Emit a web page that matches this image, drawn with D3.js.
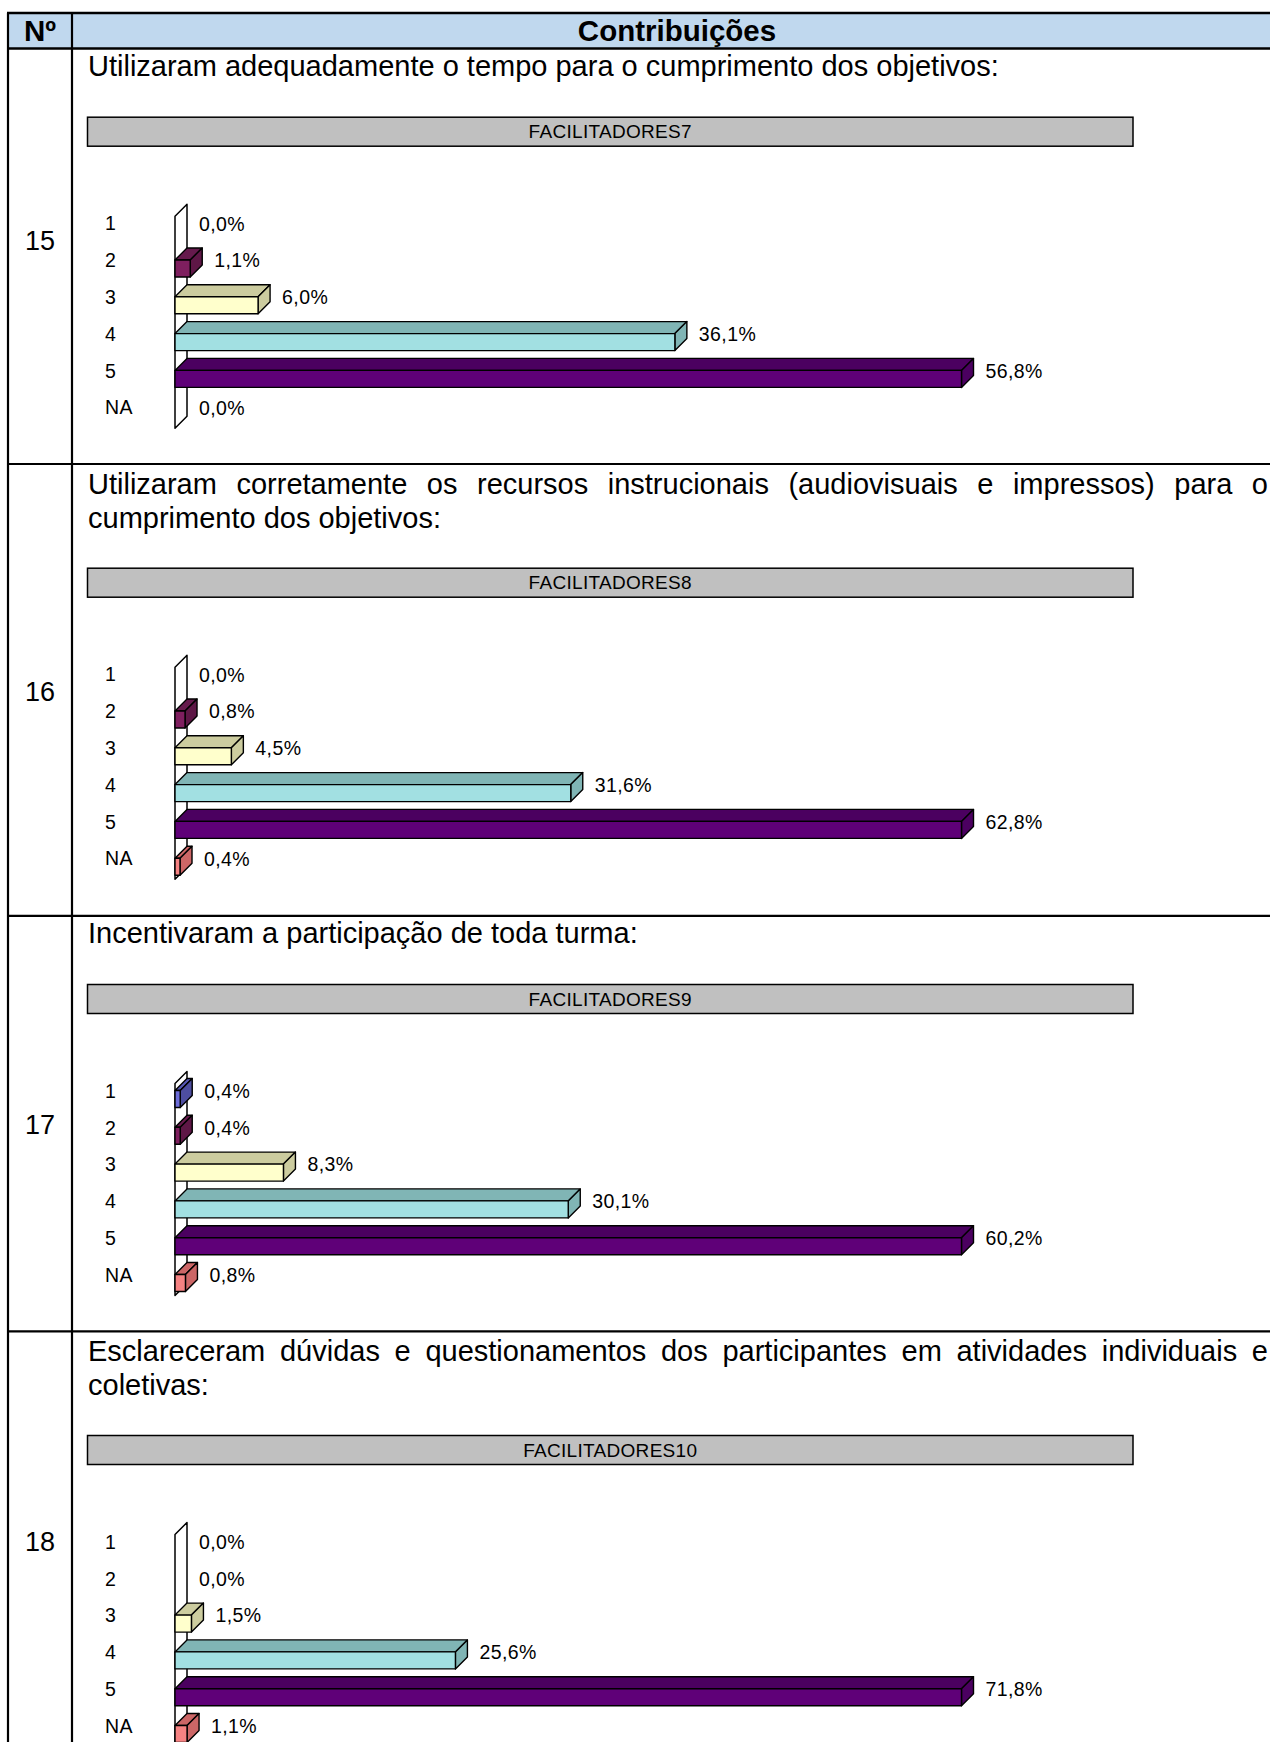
<!DOCTYPE html>
<html><head><meta charset="utf-8">
<script src="https://cdn.jsdelivr.net/npm/d3@7"></script>
<style>body{margin:0;background:#fff} svg{display:block}</style>
</head><body>
<svg id="c" width="1270" height="1742"></svg>
<script>
// ---------------- data ----------------
const headerLabels = ["Nº", "Contribuições"];
const questionNumbers = ["15", "16", "17", "18"];
const chartTitles = ["FACILITADORES7", "FACILITADORES8", "FACILITADORES9", "FACILITADORES10"];
const questionLines = [
  ["Utilizaram adequadamente o tempo para o cumprimento dos objetivos:"],
  ["Utilizaram corretamente os recursos instrucionais (audiovisuais e impressos) para o", "cumprimento dos objetivos:"],
  ["Incentivaram a participação de toda turma:"],
  ["Esclareceram dúvidas e questionamentos dos participantes em atividades individuais e", "coletivas:"]
];
const categories = ["1", "2", "3", "4", "5", "NA"];
const values15 = [0.0, 1.1, 6.0, 36.1, 56.8, 0.0];
const values16 = [0.0, 0.8, 4.5, 31.6, 62.8, 0.4];
const values17 = [0.4, 0.4, 8.3, 30.1, 60.2, 0.8];
const values18 = [0.0, 0.0, 1.5, 25.6, 71.8, 1.1];
const seriesValues = [values15, values16, values17, values18];

// ---------------- styles ----------------
const frontColors = ["#6c6cd8", "#7f1f5f", "#ffffcc", "#a2e0e2", "#5f0078", "#f58282"];
const topColors   = ["#5858b4", "#661a4d", "#cccc9f", "#80b5b5", "#4b0060", "#cc6666"];
const sideColors  = ["#4e4ea0", "#5e1746", "#cccc9f", "#80b5b5", "#4b0060", "#cc6666"];
const numberOffsets = [191.5, 227, 208.6, 210];

const FONT = "'Liberation Sans', Arial, Helvetica, sans-serif";
const svg = d3.select("#c").style("font-family", FONT);

const tableLeft = 8, colDiv = 72, tableRight = 1282;
const headerTop = 13, headerBottom = 48.5;
const textLeft = 88, textRight = 1268;
const depth = 12, step = 36.8, barH = 17;
const xStart = 175, xEnd = 961.5;

// header
svg.append("rect").attr("x", tableLeft).attr("y", headerTop)
  .attr("width", tableRight - tableLeft).attr("height", headerBottom - headerTop)
  .attr("fill", "#c0d8ee");
svg.append("text").attr("x", (tableLeft + colDiv) / 2).attr("y", 41)
  .attr("text-anchor", "middle").attr("font-weight", "bold").attr("font-size", 29.5)
  .text(headerLabels[0]);
svg.append("text").attr("x", (colDiv + tableRight) / 2).attr("y", 41)
  .attr("text-anchor", "middle").attr("font-weight", "bold").attr("font-size", 29.5)
  .text(headerLabels[1]);

function justify(g, line, x0, x1, y) {
  const words = line.split(" ");
  const nodes = words.map(w => g.append("text").attr("y", y).attr("font-size", 29).text(w));
  const widths = nodes.map(n => n.node().getComputedTextLength());
  const gap = (x1 - x0 - d3.sum(widths)) / (words.length - 1);
  let x = x0;
  nodes.forEach((n, i) => { n.attr("x", x); x += widths[i] + gap; });
}

let rowTop = headerBottom;
const rowLines = [headerTop, headerBottom];

seriesValues.forEach((vals, qi) => {
  const lines = questionLines[qi];
  const extra = (lines.length - 1);
  const rowH = 415.5 + extra * 36.3;
  const g = svg.append("g");

  // question text
  lines.forEach((ln, li) => {
    const y = rowTop + 27 + extra * 3 + li * 34;
    if (li < lines.length - 1) justify(g, ln, textLeft, textRight, y);
    else g.append("text").attr("x", textLeft).attr("y", y).attr("font-size", 29).text(ln);
  });

  // number
  g.append("text").attr("x", (tableLeft + colDiv) / 2).attr("y", rowTop + numberOffsets[qi] + 9.5)
    .attr("text-anchor", "middle").attr("font-size", 27).text(questionNumbers[qi]);

  // chart
  const top = rowTop + 174.7 + extra * 35.5;
  const y = d3.scaleBand().domain(categories).range([top, top + categories.length * step]);
  const x = d3.scaleLinear().domain([0, d3.max(vals)]).range([xStart, xEnd]);

  // title box
  g.append("rect").attr("x", 87.5).attr("y", top - 106).attr("width", 1133 - 87.5).attr("height", 29)
    .attr("fill", "#c0c0c0").attr("stroke", "#000").attr("stroke-width", 1.5);
  g.append("text").attr("x", (87.5 + 1133) / 2).attr("y", top - 106 + 14.5).attr("dy", "0.35em")
    .attr("text-anchor", "middle").attr("font-size", 19).attr("letter-spacing", 0.3)
    .text(chartTitles[qi]);

  // wall
  const wTop = top - 7, wBot = top + 5 * step + barH + 4;
  const x0 = x(0);
  g.append("polygon")
    .attr("points", [[x0, wTop], [x0 + depth, wTop - depth], [x0 + depth, wBot - depth], [x0, wBot]].map(p => p.join(",")).join(" "))
    .attr("fill", "#fff").attr("stroke", "#000").attr("stroke-width", 1.5).attr("stroke-linejoin", "round");

  // bars
  categories.forEach((c, i) => {
    const v = vals[i];
    const yt = y(c);
    if (v > 0) {
      const x1 = x(v);
      const bg = g.append("g").attr("stroke", "#000").attr("stroke-width", 1.4).attr("stroke-linejoin", "round");
      bg.append("polygon")
        .attr("points", [[x0, yt], [x0 + depth, yt - depth], [x1 + depth, yt - depth], [x1, yt]].map(p => p.join(",")).join(" "))
        .attr("fill", topColors[i]);
      bg.append("polygon")
        .attr("points", [[x1, yt], [x1 + depth, yt - depth], [x1 + depth, yt + barH - depth], [x1, yt + barH]].map(p => p.join(",")).join(" "))
        .attr("fill", sideColors[i]);
      bg.append("rect").attr("x", x0).attr("y", yt).attr("width", x1 - x0).attr("height", barH)
        .attr("fill", frontColors[i]);
    }
    g.append("text").attr("x", x(v) + depth + 12).attr("y", yt + 0.5).attr("dy", "0.35em")
      .attr("font-size", 19.5).attr("letter-spacing", 0.4)
      .text(d3.format(".1f")(v).replace(".", ",") + "%");
  });

  // category axis labels
  const ax = g.append("g").attr("transform", `translate(105,${1 - y.bandwidth() / 2})`)
    .call(d3.axisLeft(y).tickSize(0).tickPadding(0));
  ax.select(".domain").remove();
  ax.selectAll("text").attr("x", 0).attr("text-anchor", "start")
    .attr("font-size", 19.5).attr("letter-spacing", 0.4).attr("font-family", FONT).attr("fill", "#000");

  rowTop += rowH;
  rowLines.push(rowTop);
});

// table lines
const lineG = svg.append("g").attr("stroke", "#000").attr("stroke-width", 2.2);
rowLines.forEach((yy, i) => {
  if (yy < 1742) lineG.append("line").attr("x1", tableLeft - 1).attr("x2", tableRight).attr("y1", yy).attr("y2", yy)
    .attr("stroke-width", i < 2 ? 2.6 : 2.2);
});
lineG.append("line").attr("x1", tableLeft).attr("x2", tableLeft).attr("y1", headerTop).attr("y2", 1742);
lineG.append("line").attr("x1", colDiv).attr("x2", colDiv).attr("y1", headerTop).attr("y2", 1742);
</script>
</body></html>
